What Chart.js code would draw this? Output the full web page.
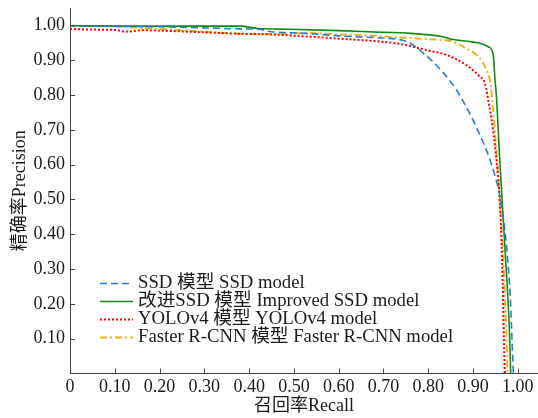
<!DOCTYPE html>
<html>
<head>
<meta charset="utf-8">
<script src="https://cdn.jsdelivr.net/npm/chart.js@4.4.0/dist/chart.umd.min.js"></script>
<style>
html, body { margin: 0; padding: 0; background: #fff; }
canvas { display: block; }
</style>
</head>
<body>
<canvas id="prChart" width="538" height="418"></canvas>
<script>
// values
var seriesNames = [
    'SSD 模型 SSD model',
    '改进SSD 模型 Improved SSD model',
    'YOLOv4 模型 YOLOv4 model',
    'Faster R-CNN 模型 Faster R-CNN model'
];

var ssdRecall = [0, 0.05, 0.13, 0.2, 0.3, 0.38, 0.42, 0.45, 0.53, 0.6, 0.66, 0.71, 0.74, 0.755, 0.78, 0.81, 0.85, 0.87, 0.91, 0.94, 0.96, 0.971, 0.978, 0.983, 0.987, 0.99];
var ssdPrecision = [0.999, 0.998, 0.997, 0.996, 0.993, 0.99, 0.989, 0.982, 0.977, 0.97, 0.966, 0.963, 0.958, 0.952, 0.93, 0.896, 0.838, 0.8, 0.7, 0.605, 0.508, 0.412, 0.317, 0.221, 0.096, 0];

var impRecall = [0, 0.1, 0.2, 0.3, 0.38, 0.42, 0.49, 0.6, 0.7, 0.75, 0.83, 0.85, 0.9, 0.915, 0.935, 0.945, 0.949, 0.952, 0.96, 0.971, 0.982, 0.984];
var impPrecision = [0.999, 0.998, 0.998, 0.998, 0.998, 0.991, 0.989, 0.985, 0.98, 0.978, 0.968, 0.961, 0.952, 0.949, 0.938, 0.917, 0.843, 0.8, 0.605, 0.365, 0.096, 0];

var yoloRecall = [0, 0.05, 0.1, 0.125, 0.16, 0.2, 0.3, 0.38, 0.45, 0.53, 0.6, 0.68, 0.74, 0.81, 0.83, 0.885, 0.915, 0.926, 0.932, 0.949, 0.961, 0.966, 0.969, 0.971];
var yoloPrecision = [0.99, 0.988, 0.987, 0.982, 0.986, 0.985, 0.98, 0.976, 0.974, 0.968, 0.962, 0.955, 0.946, 0.925, 0.92, 0.886, 0.853, 0.835, 0.8, 0.652, 0.461, 0.269, 0.096, 0];

var fasterRecall = [0, 0.1, 0.2, 0.3, 0.38, 0.45, 0.53, 0.6, 0.68, 0.74, 0.83, 0.85, 0.885, 0.915, 0.93, 0.9375, 0.942, 0.954, 0.966, 0.975, 0.977];
var fasterPrecision = [0.999, 0.997, 0.99, 0.982, 0.976, 0.975, 0.978, 0.974, 0.97, 0.965, 0.958, 0.955, 0.934, 0.906, 0.872, 0.843, 0.8, 0.605, 0.365, 0.096, 0];

var xTicks = [0, 0.1, 0.2, 0.3, 0.4, 0.5, 0.6, 0.7, 0.8, 0.9, 1.0];
var yTicks = [0.1, 0.2, 0.3, 0.4, 0.5, 0.6, 0.7, 0.8, 0.9, 1.0];

function points(xs, ys) {
    return xs.map(function (v, i) { return { x: v, y: ys[i] }; });
}

var serif = "'Liberation Serif', 'Times New Roman', 'Noto Sans CJK SC', serif";
var axisColor = '#444';

// ticks drawn inward, like the original figure
var inwardTicks = {
    id: 'inwardTicks',
    afterDatasetsDraw: function (chart) {
        var ctx = chart.ctx, a = chart.chartArea;
        var xs = chart.scales.x, ys = chart.scales.y;
        ctx.save();
        ctx.strokeStyle = axisColor;
        ctx.lineWidth = 1;
        ctx.beginPath();
        xTicks.forEach(function (v) {
            if (v === 0) return;
            var px = Math.round(xs.getPixelForValue(v)) + 0.5;
            ctx.moveTo(px, a.bottom);
            ctx.lineTo(px, a.bottom - 5);
        });
        yTicks.forEach(function (v) {
            var py = Math.round(ys.getPixelForValue(v)) + 0.5;
            ctx.moveTo(a.left, py);
            ctx.lineTo(a.left + 5, py);
        });
        ctx.stroke();
        ctx.restore();
    }
};

// legend inside the plot, lower left, no box
var innerLegend = {
    id: 'innerLegend',
    afterDraw: function (chart) {
        var ctx = chart.ctx, a = chart.chartArea;
        var x0 = a.left + 30, x1 = a.left + 63, tx = a.left + 68;
        var yFirst = a.bottom - 91, gap = 18.2;
        ctx.save();
        ctx.font = '18.7px ' + serif;
        ctx.textBaseline = 'middle';
        ctx.fillStyle = '#1a1a1a';
        chart.data.datasets.forEach(function (ds, i) {
            var y = Math.round(yFirst + i * gap) + 0.5;
            ctx.strokeStyle = ds.borderColor;
            ctx.lineWidth = ds.borderWidth;
            ctx.setLineDash(ds.borderDash || []);
            ctx.beginPath();
            ctx.moveTo(x0, y);
            ctx.lineTo(x1, y);
            ctx.stroke();
            ctx.setLineDash([]);
            ctx.fillText(ds.label, tx, y);
        });
        ctx.restore();
    }
};

var ctx = document.getElementById('prChart').getContext('2d');

new Chart(ctx, {
    type: 'line',
    data: {
        datasets: [{
            label: seriesNames[0],
            data: points(ssdRecall, ssdPrecision),
            borderColor: '#1f7fd0',
            borderWidth: 1.6,
            borderDash: [7, 4]
        }, {
            label: seriesNames[1],
            data: points(impRecall, impPrecision),
            borderColor: '#108a10',
            borderWidth: 1.6
        }, {
            label: seriesNames[2],
            data: points(yoloRecall, yoloPrecision),
            borderColor: '#ff0000',
            borderWidth: 2,
            borderDash: [2, 2]
        }, {
            label: seriesNames[3],
            data: points(fasterRecall, fasterPrecision),
            borderColor: '#edb120',
            borderWidth: 2,
            borderDash: [7, 3, 2, 3]
        }]
    },
    options: {
        responsive: false,
        animation: false,
        layout: { padding: { top: 8, right: 0, left: 0, bottom: 0 } },
        elements: {
            point: { radius: 0 },
            line: { cubicInterpolationMode: 'monotone', fill: false }
        },
        plugins: {
            legend: { display: false },
            tooltip: { enabled: false }
        },
        scales: {
            x: {
                type: 'linear',
                min: 0,
                max: 1.045,
                afterBuildTicks: function (scale) {
                    scale.ticks = xTicks.map(function (v) { return { value: v }; });
                },
                afterFit: function (scale) {
                    scale.height = 44.5;
                    scale.paddingLeft = 0;
                    scale.paddingRight = 0;
                },
                grid: { drawOnChartArea: false, drawTicks: false },
                border: { color: axisColor, width: 1 },
                ticks: {
                    padding: 3,
                    color: '#1a1a1a',
                    font: { family: serif, size: 18 },
                    maxRotation: 0,
                    callback: function (v) { return v === 0 ? '0' : v.toFixed(2); }
                },
                title: {
                    display: true,
                    text: '召回率Recall',
                    color: '#1a1a1a',
                    font: { family: serif, size: 18 },
                    padding: { top: 0, bottom: 1 }
                }
            },
            y: {
                type: 'linear',
                min: 0,
                max: 1.05,
                afterBuildTicks: function (scale) {
                    scale.ticks = yTicks.map(function (v) { return { value: v }; });
                },
                afterFit: function (scale) {
                    scale.width = 70;
                    scale.paddingTop = 0;
                    scale.paddingBottom = 0;
                },
                grid: { drawOnChartArea: false, drawTicks: false },
                border: { color: axisColor, width: 1 },
                ticks: {
                    padding: 5,
                    color: '#1a1a1a',
                    font: { family: serif, size: 18 },
                    callback: function (v) { return v.toFixed(2); }
                },
                title: {
                    display: true,
                    text: '精确率Precision',
                    color: '#1a1a1a',
                    font: { family: serif, size: 18 },
                    padding: { top: 9, bottom: 0 }
                }
            }
        }
    },
    plugins: [inwardTicks, innerLegend]
});
</script>
</body>
</html>
